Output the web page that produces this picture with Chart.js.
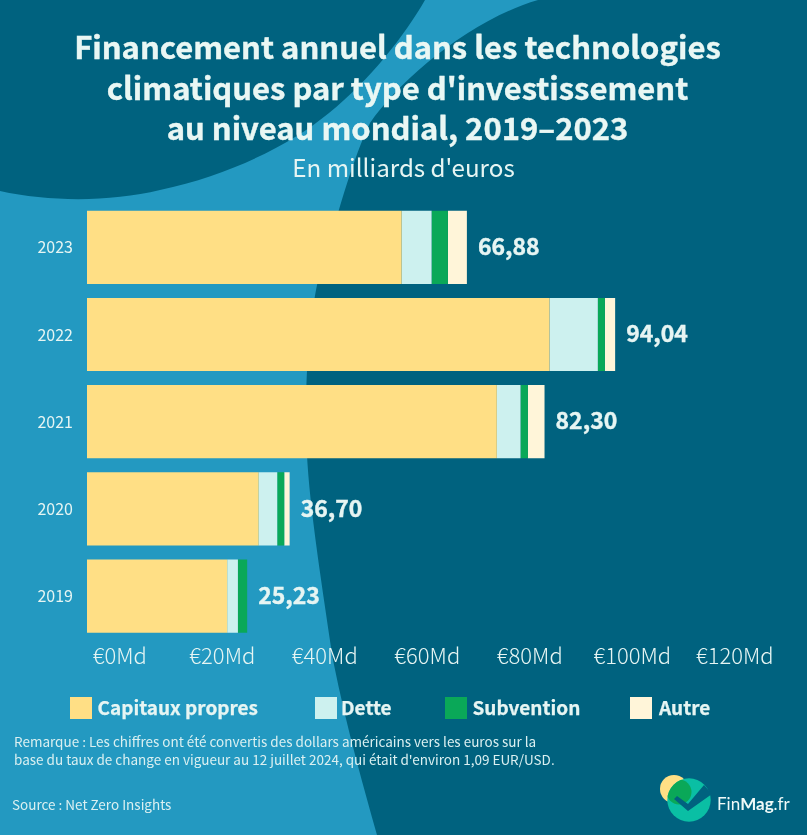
<!DOCTYPE html>
<html><head><meta charset="utf-8">
<style>
html,body{margin:0;padding:0;background:#2399c1;}
#wrap{position:relative;width:807px;height:835px;overflow:hidden;font-family:"Noto Sans CJK SC","Noto Sans",sans-serif;color:#e6f5f3;}
#bg,#c{position:absolute;left:0;top:0;}
.t{position:absolute;white-space:nowrap;}
#title{left:0;width:795px;top:26px;text-align:center;font-size:31px;font-weight:700;line-height:40.5px;color:#e9f7f4;-webkit-text-stroke:0.4px #e9f7f4;}
#sub{left:0;width:807px;top:150px;text-align:center;font-size:24.2px;line-height:34px;}
.note{font-size:13.5px;line-height:18px;color:#dbf0f1;}
.leg{position:absolute;top:697px;width:22px;height:22px;}
.legt{position:absolute;top:692px;font-size:19px;font-weight:700;line-height:30px;white-space:nowrap;-webkit-text-stroke:0.25px #e6f5f3;}
</style></head><body>
<div id="wrap">
<svg id="bg" width="807" height="835" viewBox="0 0 807 835">
<rect width="807" height="835" fill="#2399c1"/>
<path d="M807 0H538C470 20 400 80 370 123C350 165 335 225 317 285C310 320 306 360 306 420C306 480 315 540 333 660C345 720 360 775 377 835H807Z" fill="#00627f"/>
<path d="M0 0H425C405 35 370 80 329 113C290 145 230 175 160 190C110 202 50 202 0 191Z" fill="#00627f"/>
<circle cx="674" cy="789" r="14" fill="#ffdf85"/>
<circle cx="689" cy="800" r="21.7" fill="#0abfa4"/>
<clipPath id="lc"><circle cx="689" cy="800" r="21.7"/></clipPath>
<circle cx="679" cy="792" r="12.5" fill="#0aa858" clip-path="url(#lc)"/>
<path d="M704 785L712 794L688 811L674 799L677 796L688 804Z" fill="#00627f"/>
</svg>
<canvas id="c" width="807" height="835"></canvas>
<div class="t" id="title">Financement annuel dans les technologies<br>climatiques par type d'investissement<br>au niveau mondial, 2019–2023</div>
<div class="t" id="sub">En milliards d'euros</div>
<div id="legend"></div>
<div class="t note" style="left:14px;top:732px">Remarque : Les chiffres ont été convertis des dollars américains vers les euros sur la</div>
<div class="t note" style="left:14px;top:750px">base du taux de change en vigueur au 12 juillet 2024, qui était d'environ 1,09 EUR/USD.</div>
<div class="t note" style="left:12px;top:795px">Source : Net Zero Insights</div>
<div class="t" style="left:717px;top:789px;font-family:Lato,sans-serif;font-size:17px;color:#f0faf8;line-height:30px">Fin<b>Mag</b>.fr</div>
</div>
<script src="https://cdn.jsdelivr.net/npm/chart.js@4/dist/chart.umd.min.js"></script>
<script>
const years = ["2023","2022","2021","2020","2019"];
const capitaux = [56.0,82.33,72.95,30.55,24.96];
const dette = [5.34,8.6,4.22,3.31,1.9];
const subvention = [2.9,1.25,1.3,1.25,1.65];
const autre = [3.38,1.83,2.97,0.96,0];
const totals = ["66,88","94,04","82,30","36,70","25,23"];
const seriesNames = ["Capitaux propres","Dette","Subvention","Autre"];
const seriesColors = ["#ffdf85","#cdf1ef","#0aa858","#fff5d9"];
const tickValues = [0,20,40,60,80,100,120];
const legendX = [70,315,445,630];
const textX = [97.5,341,472.5,659];
const ink = "#e6f5f3";
const fam = '"Noto Sans CJK SC","Noto Sans",sans-serif';
const totalLabels = {
  id:'totalLabels',
  afterDatasetsDraw(ch){
    const ctx=ch.ctx, x=ch.scales.x, y=ch.scales.y;
    ctx.save();ctx.font='700 23px '+fam;ctx.fillStyle=ink;ctx.strokeStyle=ink;ctx.lineWidth=0.4;ctx.textBaseline='middle';ctx.textAlign='left';
    years.forEach((_,i)=>{
      const sum=capitaux[i]+dette[i]+subvention[i]+autre[i];
      const px=x.getPixelForValue(sum)+11, py=y.getPixelForValue(i)-1;
      ctx.fillText(totals[i],px,py);ctx.strokeText(totals[i],px,py);
    });
    ctx.restore();
  }
};
const chart = new Chart(document.getElementById('c'),{
  type:'bar',
  data:{labels:years,datasets:[capitaux,dette,subvention,autre].map((d,i)=>({
    label:seriesNames[i],data:d,backgroundColor:seriesColors[i],borderWidth:0,
    barPercentage:1,categoryPercentage:0.84,xAxisID:'x'}))},
  options:{
    indexAxis:'y',responsive:false,animation:false,devicePixelRatio:1,
    layout:{padding:{top:203.7,bottom:165.3,left:0,right:20}},
    plugins:{legend:{display:false},title:{display:false},tooltip:{enabled:false}},
    scales:{
      x:{type:'linear',stacked:true,min:0,max:124.6,display:false},
      tickAxis:{type:'linear',position:'bottom',min:-6.4,max:130.2,
        afterBuildTicks(a){a.ticks=tickValues.map(v=>({value:v}));},
        afterFit(a){a.height=30;},
        grid:{display:false},border:{display:false},
        ticks:{color:ink,font:{family:fam,size:22,weight:'300'},padding:-5,maxRotation:0,autoSkip:false,callback:v=>'€'+v+'Md'}},
      y:{stacked:true,grid:{display:false},border:{display:false},
        afterFit(a){a.width=87;},
        ticks:{color:ink,font:{family:fam,size:16},padding:6}}
    }
  },
  plugins:[totalLabels]
});
const lg=document.getElementById('legend');
chart.data.datasets.forEach((d,i)=>{
  const b=document.createElement('div');b.className='leg';b.style.left=legendX[i]+'px';b.style.background=d.backgroundColor;lg.appendChild(b);
  const t=document.createElement('div');t.className='legt';t.style.left=textX[i]+'px';t.textContent=d.label;lg.appendChild(t);
});
</script>
</body></html>
